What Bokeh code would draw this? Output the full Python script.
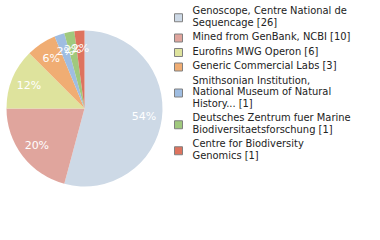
import numpy as np
from bokeh.plotting import figure
from bokeh.models import Range1d
from bokeh.core.properties import value
from bokeh.embed import file_html
from bokeh.resources import INLINE

# ---- data ----
names = [
    "Genoscope, Centre National de\nSequencage",
    "Mined from GenBank, NCBI",
    "Eurofins MWG Operon",
    "Generic Commercial Labs",
    "Smithsonian Institution,\nNational Museum of Natural\nHistory...",
    "Deutsches Zentrum fuer Marine\nBiodiversitaetsforschung",
    "Centre for Biodiversity\nGenomics",
]
counts = [26, 10, 6, 3, 1, 1, 1]
colors = ["#cdd9e6", "#e0a59d", "#dee39d", "#f0ad73", "#9fbde1", "#a0c97d", "#de735e"]

W, H = 380, 240
p = figure(width=W, height=H, output_backend="svg", toolbar_location=None,
           x_range=Range1d(0, W), y_range=Range1d(0, H), min_border=0)
p.axis.visible = False
p.grid.visible = False
p.outline_line_color = None
p.background_fill_color = "white"
p.border_fill_color = "white"

# ---- pie ----
cx, cy, r = 84, H - 108, 78
total = float(sum(counts))
frac = np.array(counts) / total
cum = np.concatenate([[0], np.cumsum(frac)])
starts = np.pi / 2 - 2 * np.pi * cum[:-1]
ends = np.pi / 2 - 2 * np.pi * cum[1:]
p.wedge(x=cx, y=cy, radius=r, start_angle=starts, end_angle=ends,
        direction="clock", fill_color=colors, line_color=None)

mids = (starts + ends) / 2
lx = cx + 0.77 * r * np.cos(mids)
ly = cy + 0.77 * r * np.sin(mids)
labels = ["%d%%" % int(100 * c / total) for c in counts]
p.text(x=lx, y=ly, text=labels, text_color="white", text_font=value("DejaVu Sans"),
       text_font_size="11px", text_align="center", text_baseline="middle")

# ---- legend ----
line_h, gap, y0 = 11.5, 3.0, 10.0
tx, ty, tt = [], [], []
sx, sy = [], []
y = y0
for n, c in zip(names, counts):
    lines = (n + " [%d]" % c).split("\n")
    ys = []
    for ln in lines:
        tx.append(192); ty.append(H - y); tt.append(ln); ys.append(y)
        y += line_h
    y += gap
    sx.append(178); sy.append(H - (np.mean(ys) + 1.5))

p.rect(x=sx, y=sy, width=8, height=8, fill_color=colors, line_color="#808080", line_width=1)
p.text(x=tx, y=ty, text=tt, text_color="#222222", text_font=value("DejaVu Sans Condensed"),
       text_font_size="11px", text_align="left", text_baseline="middle")

open("out.html", "w").write(file_html(p, INLINE))
